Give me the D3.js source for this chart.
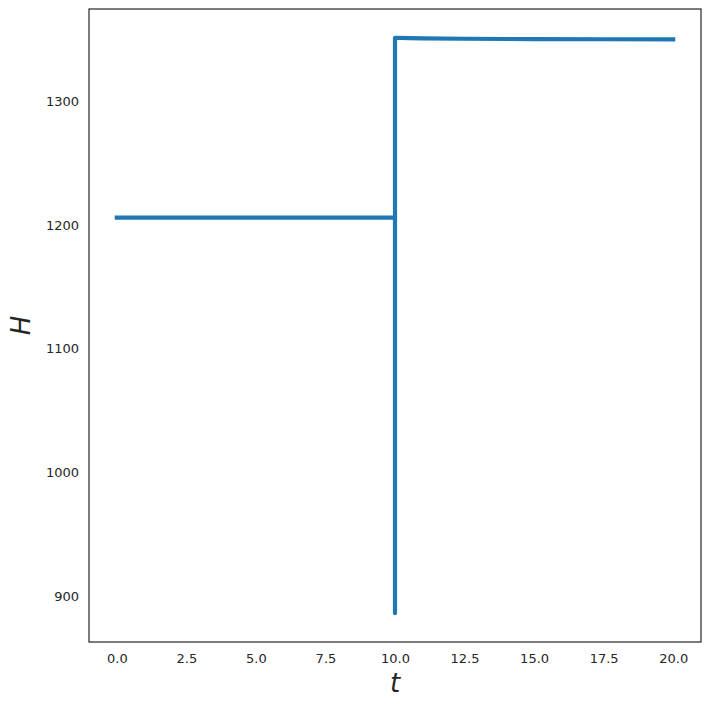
<!DOCTYPE html>
<html>
<head>
<meta charset="utf-8">
<script src="https://cdn.jsdelivr.net/npm/d3@7"></script>
<style>
  html, body { margin: 0; padding: 0; background: #fff; }
  svg { display: block; font-family: "DejaVu Sans", sans-serif; }
</style>
</head>
<body>
<svg id="chart" width="710" height="709"></svg>
<script>
// time (t) and energy (H)
const tValues = [0, 2.5, 5, 7.5, 10, 10, 10, 10.5, 11, 12.5, 15, 17.5, 20];
const hValues = [1206, 1206, 1206, 1206, 1206, 886, 1351.4, 1351.1, 1350.9, 1350.6, 1350.3, 1350.2, 1350.1];
const xTicks = [0, 2.5, 5, 7.5, 10, 12.5, 15, 17.5, 20];
const yTicks = [900, 1000, 1100, 1200, 1300];

const width = 710;
const height = 709;
const margin = { top: 9, right: 9, bottom: 67, left: 89 };

const svg = d3.select("#chart");

const points = tValues.map((t, i) => ({ t, h: hValues[i] }));

const tExtent = d3.extent(tValues);
const hExtent = d3.extent(hValues);
const tPad = (tExtent[1] - tExtent[0]) * 0.05;
const hPad = (hExtent[1] - hExtent[0]) * 0.05;

const x = d3.scaleLinear()
  .domain([tExtent[0] - tPad, tExtent[1] + tPad])
  .range([margin.left, width - margin.right]);

const y = d3.scaleLinear()
  .domain([hExtent[0] - hPad, hExtent[1] + hPad])
  .range([height - margin.bottom, margin.top]);

const line = d3.line()
  .x((d) => x(d.t))
  .y((d) => y(d.h));

svg.append("path")
  .datum(points)
  .attr("fill", "none")
  .attr("stroke", "#1f77b4")
  .attr("stroke-width", 4.2)
  .attr("stroke-linejoin", "round")
  .attr("stroke-linecap", "square")
  .attr("d", line);

// seaborn "white" style: no tick marks, dark frame
const xAxis = svg.append("g")
  .attr("transform", `translate(0,${height - margin.bottom})`)
  .call(d3.axisBottom(x).tickValues(xTicks).tickFormat(d3.format(".1f")).tickSize(0).tickPadding(12));

const yAxis = svg.append("g")
  .attr("transform", `translate(${margin.left},0)`)
  .call(d3.axisLeft(y).tickValues(yTicks).tickFormat(d3.format("d")).tickSize(0).tickPadding(10));

[xAxis, yAxis].forEach((g) => {
  g.select(".domain").remove();
  g.selectAll("text")
    .attr("fill", "#262626")
    .style("font-size", "13px")
    .style("font-family", "'DejaVu Sans', sans-serif");
});

svg.append("rect")
  .attr("x", margin.left)
  .attr("y", margin.top)
  .attr("width", width - margin.left - margin.right)
  .attr("height", height - margin.top - margin.bottom)
  .attr("fill", "none")
  .attr("stroke", "#262626")
  .attr("stroke-width", 1.2);

svg.append("text")
  .attr("x", (margin.left + width - margin.right) / 2)
  .attr("y", 692)
  .attr("text-anchor", "middle")
  .attr("fill", "#262626")
  .style("font-size", "26px")
  .style("font-style", "italic")
  .text("t");

svg.append("text")
  .attr("transform", `translate(30,${(margin.top + height - margin.bottom) / 2}) rotate(-90)`)
  .attr("text-anchor", "middle")
  .attr("fill", "#262626")
  .style("font-size", "26px")
  .style("font-style", "italic")
  .text("H");
</script>
</body>
</html>
